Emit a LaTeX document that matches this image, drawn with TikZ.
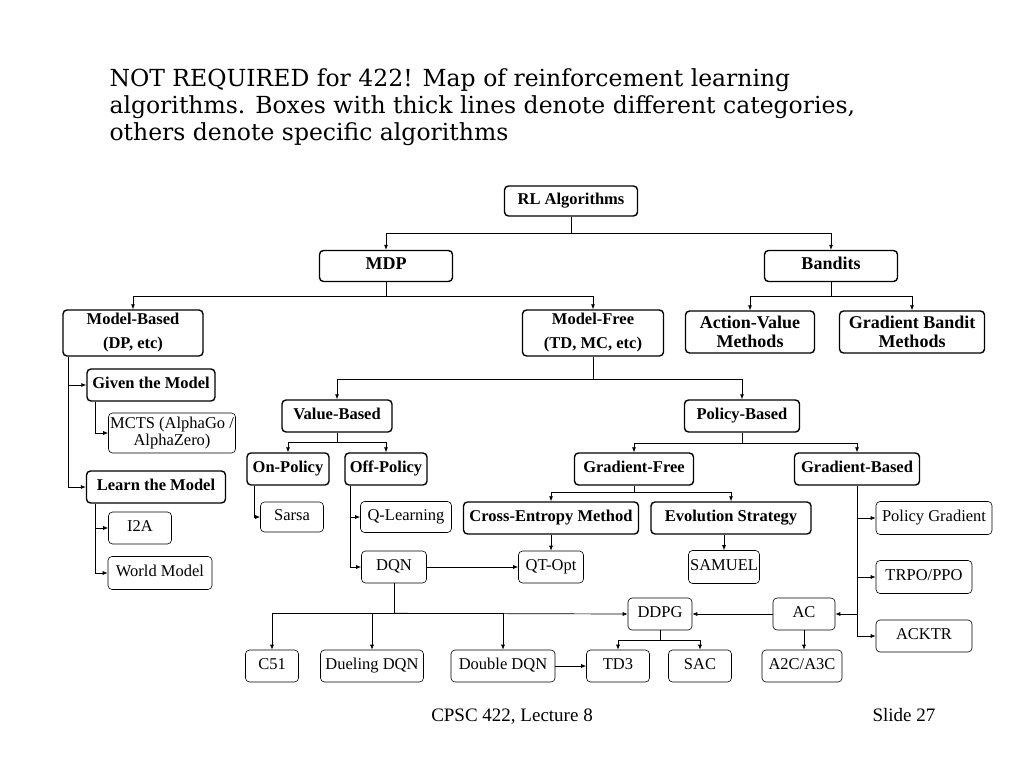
\documentclass[tikz,border=0pt]{standalone}
\usepackage{fontspec}
\setmainfont{Liberation Serif}
\newfontfamily\titlefont{DejaVu Serif}
\usetikzlibrary{arrows.meta}
\tikzset{
    box/.style={draw, rounded corners=4pt, align=center, inner sep=1pt},
    mid/.style={text height=9pt, text depth=3pt},
    catm/.style={box, line width=1.4pt, font=\fontsize{16.5}{19}\selectfont\bfseries},
    cat/.style={catm, mid},
    algm/.style={box, line width=0.6pt, font=\fontsize{16.5}{19}\selectfont},
    alg/.style={algm, mid},
    link/.style={line width=0.7pt, -{Latex[length=5pt,width=4pt]}},
    plain/.style={line width=0.7pt}
}
\begin{document}
\begin{tikzpicture}[x=1pt, y=-1pt]
            \useasboundingbox (0,0) rectangle (1024,768);

            % title and footer
            \node[anchor=west, font=\titlefont\fontsize{23.5}{27}\selectfont, align=left] (title) at (106,107)
                {NOT REQUIRED for 422! Map of reinforcement learning\\algorithms. Boxes with thick lines denote different categories,\\others denote specific algorithms};
            \node[font=\fontsize{19}{21}\selectfont, mid] (lecture) at (512,718) {CPSC 422, Lecture 8};
            \node[font=\fontsize{19}{21}\selectfont, mid] (slide) at (904,718) {Slide 27};

            % categories
            \node[cat, minimum width=133, minimum height=30] (rl) at (571,201) {RL Algorithms};
            \node[cat, minimum width=133, minimum height=31, font=\fontsize{18}{20}\selectfont\bfseries] (mdp) at (386,266) {MDP};
            \node[cat, minimum width=133, minimum height=31, font=\fontsize{18}{20}\selectfont\bfseries] (bandits) at (831,266) {Bandits};
            \node[catm, minimum width=140, minimum height=46, font=\fontsize{16.5}{24}\selectfont\bfseries] (mb) at (133,333) {Model-Based\\(DP, etc)};
            \node[catm, minimum width=141, minimum height=46, font=\fontsize{16.5}{24}\selectfont\bfseries] (mf) at (593,333) {Model-Free\\(TD, MC, etc)};
            \node[catm, minimum width=129, minimum height=42, font=\fontsize{18}{19}\selectfont\bfseries] (av) at (750,332) {Action-Value\\Methods};
            \node[catm, minimum width=145, minimum height=42, font=\fontsize{18}{19}\selectfont\bfseries] (gb) at (912,332) {Gradient Bandit\\Methods};
            \node[cat, minimum width=128, minimum height=32] (given) at (151,385) {Given the Model};
            \node[cat, minimum width=139, minimum height=32] (learn) at (156,487) {Learn the Model};
            \node[cat, minimum width=110, minimum height=32] (vb) at (337,416) {Value-Based};
            \node[cat, minimum width=115, minimum height=32] (pb) at (742,416) {Policy-Based};
            \node[cat, minimum width=82, minimum height=32] (on) at (288,469) {On-Policy};
            \node[cat, minimum width=82, minimum height=32] (off) at (386,469) {Off-Policy};
            \node[cat, minimum width=119, minimum height=32] (gfree) at (634,469) {Gradient-Free};
            \node[cat, minimum width=125, minimum height=32] (gbased) at (857,469) {Gradient-Based};
            \node[cat, minimum width=175, minimum height=32] (cem) at (551,518) {Cross-Entropy Method};
            \node[cat, minimum width=160, minimum height=32] (es) at (731,518) {Evolution Strategy};

            % algorithms
            \node[algm, minimum width=127, minimum height=40, font=\fontsize{16.5}{17}\selectfont] (mcts) at (172,433) {MCTS (AlphaGo /\\AlphaZero)};
            \node[alg, minimum width=63, minimum height=32] (i2a) at (140,528) {I2A};
            \node[alg, minimum width=104, minimum height=33] (world) at (160,573) {World Model};
            \node[alg, minimum width=63, minimum height=30] (sarsa) at (292,517) {Sarsa};
            \node[alg, minimum width=91, minimum height=31] (ql) at (406,517) {Q-Learning};
            \node[alg, minimum width=65, minimum height=32] (dqn) at (394,567) {DQN};
            \node[alg, minimum width=65, minimum height=32] (qt) at (551,567) {QT-Opt};
            \node[alg, minimum width=71, minimum height=33] (samuel) at (724,567) {SAMUEL};
            \node[alg, minimum width=116, minimum height=33] (pg) at (934,518) {Policy Gradient};
            \node[alg, minimum width=96, minimum height=33] (trpo) at (924,577) {TRPO/PPO};
            \node[alg, minimum width=96, minimum height=32] (acktr) at (924,636) {ACKTR};
            \node[alg, minimum width=62, minimum height=32] (ac) at (804,614) {AC};
            \node[alg, minimum width=64, minimum height=32] (ddpg) at (660,614) {DDPG};
            \node[alg, minimum width=53, minimum height=32] (c51) at (272,666) {C51};
            \node[alg, minimum width=103, minimum height=32] (dueling) at (372,666) {Dueling DQN};
            \node[alg, minimum width=104, minimum height=32] (double) at (503,666) {Double DQN};
            \node[alg, minimum width=63, minimum height=32] (td3) at (618,666) {TD3};
            \node[alg, minimum width=63, minimum height=32] (sac) at (700,666) {SAC};
            \node[alg, minimum width=80, minimum height=32] (a2c) at (802,666) {A2C/A3C};

            % tree connectors
            \draw[plain] (rl.south) -- ++(0,17) coordinate (rlj);
            \draw[link] (rlj) -| (mdp.north);
            \draw[link] (rlj) -| (bandits.north);
            \draw[plain] (mdp.south) -- ++(0,14) coordinate (mdpj);
            \draw[link] (mdpj) -| (mb.north);
            \draw[link] (mdpj) -| (mf.north);
            \draw[plain] (bandits.south) -- ++(0,14) coordinate (bj);
            \draw[link] (bj) -| (av.north);
            \draw[link] (bj) -| (gb.north);
            \draw[link] (mb.south -| 68,0) |- (given.west);
            \draw[link] (mb.south -| 68,0) |- (learn.west);
            \draw[link] (given.south -| 95,0) |- (mcts.west);
            \draw[link] (learn.south -| 95,0) |- (i2a.west);
            \draw[link] (learn.south -| 95,0) |- (world.west);
            \draw[plain] (mf.south) -- ++(0,23) coordinate (mfj);
            \draw[link] (mfj) -| (vb.north);
            \draw[link] (mfj) -| (pb.north);
            \draw[plain] (vb.south) -- ++(0,10) coordinate (vbj);
            \draw[link] (vbj) -| (on.north);
            \draw[link] (vbj) -| (off.north);
            \draw[link] (on.south -| 254,0) |- (sarsa.west);
            \draw[link] (off.south -| 350,0) |- (ql.west);
            \draw[link] (off.south -| 350,0) |- (dqn.west);
            \draw[link] (dqn) -- (qt);
            \draw[plain] (pb.south) -- ++(0,11) coordinate (pbj);
            \draw[link] (pbj) -| (gfree.north);
            \draw[link] (pbj) -| (gbased.north);
            \draw[plain] (gfree.south) -- ++(0,7) coordinate (gfj);
            \draw[link] (gfj) -| (cem.north);
            \draw[link] (gfj) -| (es.north);
            \draw[link] (cem) -- (qt);
            \draw[link] (es.south -| samuel) -- (samuel);
            \draw[link] (gbased.south) |- (pg.west);
            \draw[link] (gbased.south) |- (trpo.west);
            \draw[link] (gbased.south) |- (acktr.west);
            \draw[link] (gbased.south |- ac) -- (ac.east);
            \draw[link] (ac) -- (ddpg);
            \draw[link] (ac) -- (a2c.north -| ac);
            \draw[plain] (dqn.south) -- ++(0,30) coordinate (dqnj);
            \draw[link] (dqnj) -| (c51.north);
            \draw[link] (dqnj) -| (dueling.north);
            \draw[link] (dqnj) -| (double.north);
            \draw[link] (dqnj) -- (ddpg.west);
            \draw[plain] (ddpg.south) -- ++(0,10) coordinate (ddpgj);
            \draw[link] (ddpgj) -| (td3.north);
            \draw[link] (ddpgj) -| (sac.north);
            \draw[link] (double) -- (td3);
        \end{tikzpicture}
\end{document}
